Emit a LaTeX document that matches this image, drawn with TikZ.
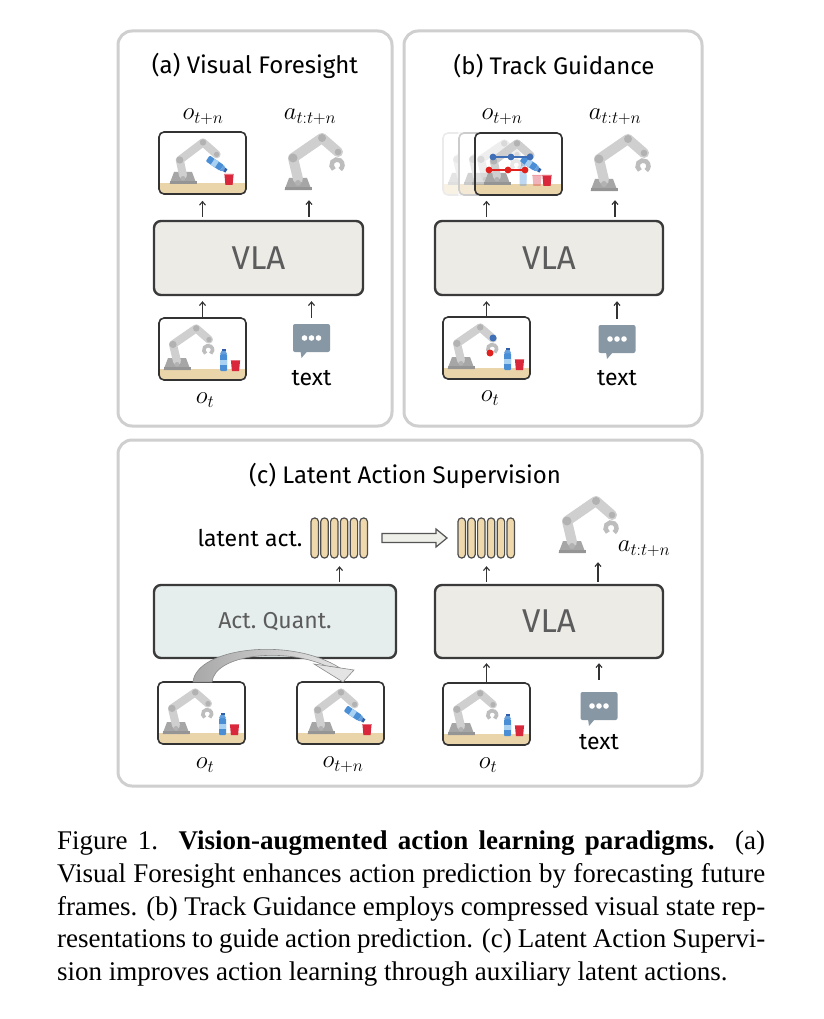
\documentclass[tikz,border=0pt]{standalone}
\usepackage[no-math]{fontspec}
\usepackage{amsmath}
\usetikzlibrary{arrows.meta}
\setmainfont{Fira Sans}
\newfontfamily\capfont{Liberation Serif}
\definecolor{PanelGray}{HTML}{CFCFCF}
\definecolor{FrameLine}{HTML}{333333}
\definecolor{BoxLine}{HTML}{3A3A3A}
\definecolor{BoxText}{HTML}{5C5C5C}
\definecolor{VlaFill}{HTML}{ECEBE6}
\definecolor{AqFill}{HTML}{E5EDED}
\definecolor{ArrowGray}{HTML}{333333}
\definecolor{ArmCol}{HTML}{CFCFCF}
\definecolor{ArmJoint}{HTML}{B2B2B2}
\definecolor{ArmBase}{HTML}{A6A6A6}
\definecolor{ArmMid}{HTML}{959595}
\definecolor{ArmClaw}{HTML}{BDBDBD}
\definecolor{TableCol}{HTML}{EAD4AA}
\definecolor{BottleBlue}{HTML}{4A8FD6}
\definecolor{BottleLight}{HTML}{A9D1F2}
\definecolor{BottleDark}{HTML}{2F5FA8}
\definecolor{CupRed}{HTML}{D9283B}
\definecolor{BubbleCol}{HTML}{8797A4}
\definecolor{LatFill}{HTML}{EFD9AC}
\definecolor{LatLine}{HTML}{4D4D4D}
\definecolor{TrackBlue}{HTML}{3F6FB7}
\definecolor{TrackRed}{HTML}{E0211D}
\definecolor{HollowFill}{HTML}{EFEFE9}
\definecolor{HollowLine}{HTML}{555555}
\definecolor{SwooshDark}{HTML}{A8A8A8}
\definecolor{SwooshLight}{HTML}{E4E4E4}
\definecolor{SwooshLine}{HTML}{8A8A8A}

\tikzset{
  ptitle/.style={font=\fontsize{24}{24}\selectfont},
  lbl/.style={font=\fontsize{26}{26}\selectfont, inner sep=0pt},
  word/.style={font=\fontsize{23}{23}\selectfont, inner sep=0pt},
  panel/.style={draw=PanelGray, line width=3pt, rounded corners=14pt},
  obsframe/.style={draw=FrameLine, line width=1.6pt, rounded corners=5pt, minimum width=87pt, minimum height=62pt, inner sep=0pt},
  iconbox/.style={inner sep=0pt, minimum width=56pt, minimum height=58pt},
  bubblebox/.style={inner sep=0pt, minimum width=38pt, minimum height=28pt},
  latentbox/.style={inner sep=0pt, minimum width=57pt, minimum height=41pt},
  model/.style={draw=BoxLine, line width=2.4pt, rounded corners=7pt, text=BoxText, inner sep=0pt, minimum height=74pt},
  vla/.style={model, fill=VlaFill, font=\fontsize{33}{33}\selectfont},
  arr/.style={draw=ArrowGray, line width=1.1pt, -{Straight Barb[length=3.5pt,width=6pt]}},
  pics/armbase/.style={code={
    \fill[ArmBase] (-13.5,0) -- (13.5,0) -- (9,-12) -- (-9,-12) -- cycle;
    \fill[ArmMid] (-13.5,0) rectangle (13.5,-3);
  }},
  pics/arm/.style={code={
    \pic at (0,0) {armbase};
    \draw[ArmCol, line width=#1*10pt, line cap=round, line join=round] (0,-11) -- (-5,-32) -- (24,-52) -- (40,-38);
    \fill[ArmJoint] (0,-7) circle (3) (-5,-32) circle (4.5) (24,-52) circle (4) (40,-38) circle (3.3);
    \draw[ArmClaw, line width=#1*4.5pt] (39,-25) ++(125:5.5) arc[start angle=125, end angle=415, radius=5.5];
  }},
  pics/arm/.default=1,
  pics/armpour/.style={code={
    \pic at (0,0) {armbase};
    \draw[ArmCol, line width=#1*10pt, line cap=round, line join=round] (0,-11) -- (-4,-30) -- (25,-52) -- (42,-37);
    \fill[ArmJoint] (0,-7) circle (3) (-4,-30) circle (4.5) (25,-52) circle (4) (42,-37) circle (3.3);
  }},
  pics/armpour/.default=1,
  pics/bottle/.style={code={
    \fill[BottleBlue, rounded corners=1pt] (-3.5,10) rectangle (3.5,-7);
    \fill[BottleLight] (-3.5,-1) rectangle (3.5,4);
    \fill[BottleBlue!85] (-3.5,-7) -- (3.5,-7) -- (2,-10) -- (-2,-10) -- cycle;
    \fill[BottleDark] (-2,-10) rectangle (2,-12.5);
  }},
  pics/cup/.style={code={
    \fill[CupRed] (-3.6,0) -- (3.6,0) -- (4.6,-11) -- (-4.6,-11) -- cycle;
    \fill[CupRed!65!white] (-4.6,-11) rectangle (4.6,-9.8);
  }},
  pics/bubble/.style={code={
    \fill[BubbleCol, rounded corners=2pt] (-18.5,-14) rectangle (18.5,14);
    \fill[BubbleCol] (-11,13) -- (-4,13) -- (-10,20) -- cycle;
    \fill[white] (-7,0) circle (2.8) (0,0) circle (2.8) (7,0) circle (2.8);
  }},
  pics/latent/.style={code={
    \foreach \i in {0,...,5}
      \draw[LatLine, fill=LatFill, line width=1.2pt, rounded corners=3.5pt] (\i*9.8,0) rectangle ++(7.4,40);
  }},
  pics/table/.style={code={
    \begin{scope}
      \clip[rounded corners=5pt] (0,0) rectangle (87,62);
      \fill[TableCol] (0,51) rectangle (87,62);
    \end{scope}
  }},
  pics/obs/.style={code={
    \pic at (0,0) {table};
    \pic[scale=.8] at (18,52) {arm=.8};
    \pic at (64.5,43) {bottle};
    \pic at (76.5,53) {cup};
  }},
  pics/obsnext/.style={code={
    \pic at (0,0) {table};
    \pic[scale=.8] at (24,52) {armpour=.8};
    \pic[rotate=-124] at (57,32) {bottle};
    \pic at (70,53) {cup};
  }},
  pics/trackobs/.style={code={
    \pic at (0,0) {table};
    \begin{scope}[opacity=.35]
      \pic[scale=.8] at (10,52) {arm=.8};
      \pic at (48,43) {bottle};
      \pic at (62,53) {cup};
    \end{scope}
    \pic[scale=.8] at (22,52) {armpour=.8};
    \pic[rotate=-124] at (55,31) {bottle};
    \pic at (72,53) {cup};
    \draw[TrackBlue, line width=2.4pt] (18,24) -- (55,24);
    \fill[TrackBlue] (18,24) circle (3.4) (36,24) circle (3.4) (55,24) circle (3.4);
    \draw[TrackRed, line width=2.4pt] (14,37) -- (50,37);
    \fill[TrackRed] (14,37) circle (3.4) (33,37) circle (3.4) (50,37) circle (3.4);
  }},
}

\begin{document}
\begin{tikzpicture}[x=1pt,y=-1pt]
  \fill[white] (0,0) rectangle (823,1019);
  \useasboundingbox (0,0) rectangle (823,1019);

  % (a) visual foresight
  \draw[panel] (118,31) rectangle (392,426);
  \node[ptitle] (tita) at (255,66) {(a) Visual Foresight};
  \node[lbl] (lota1) at (203,117) {$o_{t+n}$};
  \node[lbl] (lacta) at (310,117) {$a_{t:t+n}$};
  \pic at (159,132) {obsnext};
  \node[obsframe] (fa1) at (202.5,163) {};
  \pic at (298,190) {arm};
  \node[iconbox] (arma) at (309,162) {};
  \node[vla, minimum width=209pt] (vlaa) at (258.5,258) {VLA};
  \pic at (159,318) {obs};
  \node[obsframe] (fa0) at (202.5,349) {};
  \pic at (311.5,338) {bubble};
  \node[bubblebox] (txta) at (311.5,338) {};
  \node[word] (wa) at (311.5,378) {text};
  \node[lbl] (lota0) at (205,400) {$o_t$};
  \draw[arr, shorten <=3pt, shorten >=6pt] (vlaa.north -| fa1) -- (fa1.south);
  \draw[arr, shorten <=3pt, shorten >=9pt] (vlaa.north -| arma) -- (arma.south);
  \draw[arr, shorten >=5pt] (fa0.north) -- (fa0.north |- vlaa.south);
  \draw[arr, shorten <=6pt, shorten >=5pt] (txta.north) -- (txta.north |- vlaa.south);

  % (b) track guidance
  \draw[panel] (404,31) rectangle (702,426);
  \node[ptitle] (titb) at (554,66) {(b) Track Guidance};
  \node[lbl] (lotb1) at (502,117) {$o_{t+n}$};
  \node[lbl] (lactb) at (615,117) {$a_{t:t+n}$};
  \pic at (443,133) {obs};
  \node[obsframe, draw=black!25] (fs1) at (486.5,164) {};
  \fill[white, opacity=.7] (442,132) rectangle (531,196);
  \fill[white] (459,133) rectangle (546,195);
  \pic at (459,133) {obs};
  \node[obsframe, draw=black!40] (fs2) at (502.5,164) {};
  \fill[white, opacity=.5] (458,132) rectangle (547,196);
  \fill[white, rounded corners=5pt] (475,133) rectangle (562,195);
  \pic at (475,133) {trackobs};
  \node[obsframe] (fs3) at (518.5,164) {};
  \pic at (604,191) {arm};
  \node[iconbox] (armb) at (615,162) {};
  \node[vla, minimum width=228pt] (vlab) at (549,258) {VLA};
  \pic at (443,317) {obs};
  \fill[TrackBlue] (493,338) circle (3.5);
  \fill[TrackRed] (490,353) circle (3.5);
  \node[obsframe] (fb0) at (486.5,348) {};
  \pic at (617,339) {bubble};
  \node[bubblebox] (txtb) at (617,339) {};
  \node[word] (wb) at (617,378) {text};
  \node[lbl] (lotb0) at (490,398) {$o_t$};
  \draw[arr, shorten <=3pt, shorten >=5pt] (vlab.north -| fb0) -- (fb0 |- fs3.south);
  \draw[arr, shorten <=3pt, shorten >=9pt] (vlab.north -| armb) -- (armb.south);
  \draw[arr, shorten >=5pt] (fb0.north) -- (fb0.north |- vlab.south);
  \draw[arr, shorten <=6pt, shorten >=5pt] (txtb.north) -- (txtb.north |- vlab.south);

  % (c) latent action supervision
  \draw[panel] (118,440) rectangle (702,786);
  \node[ptitle] (titc) at (405,476) {(c) Latent Action Supervision};
  \node[word] (wlat) at (250,538) {latent act.};
  \pic at (311,518) {latent};
  \node[latentbox] (lat1) at (339.5,538.5) {};
  \filldraw[fill=HollowFill, draw=HollowLine, line width=1.2pt]
    (382,533.5) -- (436,533.5) -- (436,529) -- (447,538) -- (436,547) -- (436,542.5) -- (382,542.5) -- cycle;
  \pic at (458,518) {latent};
  \node[latentbox] (lat2) at (486.5,538.5) {};
  \pic at (572,553) {arm};
  \node[iconbox] (armc) at (598,524) {};
  \node[lbl] (lactc) at (644,549) {$a_{t:t+n}$};
  \node[model, fill=AqFill, minimum width=242pt, minimum height=73pt, font=\fontsize{23}{23}\selectfont] (aq) at (275,621.5) {Act.\ Quant.};
  \node[vla, minimum width=228pt, minimum height=73pt] (vlac) at (549,621.5) {VLA};
  \pic at (158,682) {obs};
  \node[obsframe] (fc0) at (201.5,713) {};
  \pic at (297,682) {obsnext};
  \node[obsframe] (fc1) at (340.5,713) {};
  \shade[left color=SwooshDark, right color=SwooshLight, draw=SwooshLine, line width=.6pt]
    (193,682) .. controls (196,648) and (290,636) .. (340,668)
    -- (326,666) .. controls (285,647) and (215,654) .. (212,682) -- cycle;
  \filldraw[fill=SwooshLight, draw=SwooshLine, line width=.6pt] (314,664) -- (354,670) -- (343,682) -- cycle;
  \pic at (443,683) {obs};
  \node[obsframe] (fc2) at (486.5,714) {};
  \pic at (599,706) {bubble};
  \node[bubblebox] (txtc) at (599,706) {};
  \node[word] (wc) at (599,742) {text};
  \node[lbl] (lotc0) at (205,765) {$o_t$};
  \node[lbl] (lotc1) at (343,765) {$o_{t+n}$};
  \node[lbl] (lotc2) at (488,765) {$o_t$};
  \draw[arr, shorten <=2pt, shorten >=7pt] (aq.north -| lat1) -- (lat1.south);
  \draw[arr, shorten <=2pt, shorten >=7pt] (vlac.north -| lat2) -- (lat2.south);
  \draw[arr, shorten <=2pt, shorten >=9pt] (vlac.north -| armc) -- (armc.south);
  \draw[arr, shorten >=4pt] (fc2.north) -- (fc2.north |- vlac.south);
  \draw[arr, shorten <=12pt, shorten >=4pt] (txtc.north) -- (txtc.north |- vlac.south);

  % caption
  \node[anchor=north west, inner sep=0pt, text width=708pt, align=justify,
        font=\capfont\fontsize{27}{32.6}\selectfont] (cap) at (57,831)
    {\hyphenpenalty=10000 Figure 1.~~\textbf{Vision-augmented action learning paradigms.}~~(a)\linebreak
     Visual Foresight enhances action prediction by forecasting future\linebreak
     frames. (b) Track Guidance employs compressed visual state rep-\linebreak
     resentations to guide action prediction. (c) Latent Action Supervi-\linebreak
     sion improves action learning through auxiliary latent actions.};
\end{tikzpicture}
\end{document}
